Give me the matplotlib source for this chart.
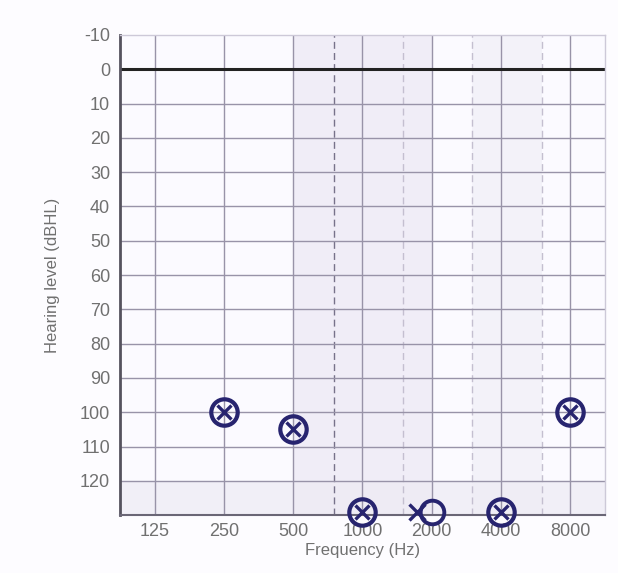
import numpy as np
import matplotlib
matplotlib.use("Agg")
import matplotlib.pyplot as plt
import matplotlib.transforms as mtransforms

plt.rcParams["font.family"] = ["Liberation Sans", "DejaVu Sans"]
plt.rcParams["axes.unicode_minus"] = False

# ── Audiogram data ────────────────────────────────────────────────────────────
freqs = [125, 250, 500, 1000, 2000, 4000, 8000]
freq_labels = ["125", "250", "500", "1000", "2000", "4000", "8000"]
half_octaves = [750, 1500, 3000, 6000]
y_ticks = list(range(-10, 130, 10))

# both ears overlapping (O right, X left)
both_freqs = [250, 500, 1000, 4000, 8000]
both_levels = [100, 105, 129, 129, 100]
# separate symbols at 2000 Hz
right_freq, right_level = [2000], [129]
left_freq, left_level = [2000], [129]

INK = "#27246f"
GRID = "#9893a8"

fig = plt.figure(figsize=(6.18, 5.73), dpi=100)
fig.patch.set_facecolor("#fdfcff")
ax = fig.add_axes([0.194, 0.101, 0.785, 0.838])
ax.set_facecolor("#fbfaff")

ax.set_xscale("log", base=2)
ax.set_xlim(125 / np.sqrt(2), 8000 * np.sqrt(2))
ax.set_ylim(130, -10)

# light shading of the speech region and the bottom band
ax.axvspan(500, 2000, color="#ece8f5", alpha=0.7, zorder=0, lw=0)
ax.axvspan(3000, 6000, color="#f1eff7", alpha=0.7, zorder=0, lw=0)
ax.axhspan(120, 130, color="#eeebf4", alpha=0.7, zorder=0, lw=0)

# grid
for f in freqs:
    ax.axvline(f, color=GRID, lw=1.0, zorder=1)
ax.axvline(750, color="#77728a", lw=1.0, ls=(0, (5, 3)), zorder=1)
for f in half_octaves[1:]:
    ax.axvline(f, color="#c4bfd0", lw=1.0, ls=(0, (5, 3)), zorder=1)
for y in y_ticks:
    if y in (-10, 0):
        continue
    ax.axhline(y, color=GRID, lw=1.0, zorder=1)
ax.axhline(0, color="#222222", lw=2.2, zorder=2)

ax.set_xticks(freqs)
ax.set_xticklabels(freq_labels)
ax.minorticks_off()
ax.set_yticks(y_ticks)
ax.tick_params(length=0, labelsize=13, labelcolor="#707070", pad=7)
ax.tick_params(axis="x", pad=6)

for side in ("top", "right"):
    ax.spines[side].set_color("#cdc9d8")
    ax.spines[side].set_linewidth(1.0)
ax.spines["left"].set_color("#55525e")
ax.spines["left"].set_linewidth(2.0)
ax.spines["bottom"].set_color("#6a6676")
ax.spines["bottom"].set_linewidth(1.5)

ax.set_xlabel("Frequency (Hz)", fontsize=12, color="#707070", labelpad=2)
ax.set_ylabel("Hearing level (dBHL)", fontsize=12, color="#707070", labelpad=14)

# symbols
ax.plot(both_freqs, both_levels, "o", ms=19, mfc="none", mec=INK, mew=3.0,
        ls="none", zorder=5, clip_on=False)
ax.plot(both_freqs, both_levels, "x", ms=10, mec=INK, mew=2.4,
        ls="none", zorder=5, clip_on=False)

ax.plot(right_freq, right_level, "o", ms=17, mfc="none", mec=INK, mew=2.8,
        ls="none", zorder=5, clip_on=False)
shift = mtransforms.offset_copy(ax.transData, fig=fig, x=-15, y=0, units="dots")
ax.plot(left_freq, left_level, "x", ms=11, mec=INK, mew=2.4,
        ls="none", zorder=5, clip_on=False, transform=shift)

fig.savefig("out.png", dpi=100, facecolor=fig.get_facecolor())
